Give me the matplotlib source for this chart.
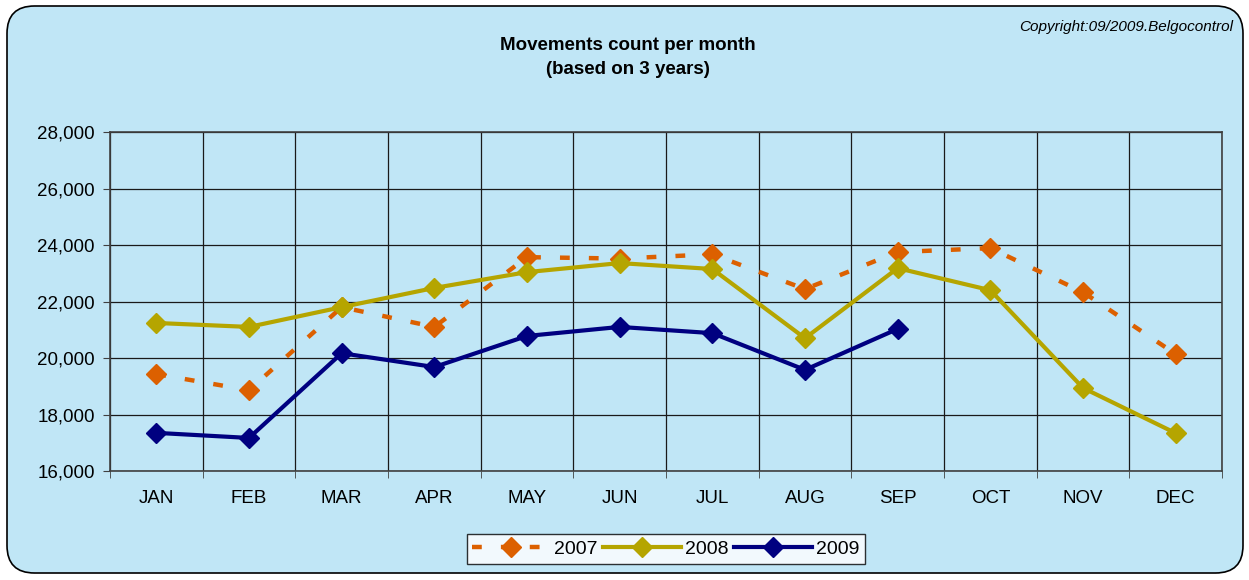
import matplotlib
matplotlib.use("Agg")
import matplotlib.pyplot as plt
from matplotlib.patches import FancyBboxPatch
from matplotlib.ticker import FuncFormatter

# datos
months = ["JAN", "FEB", "MAR", "APR", "MAY", "JUN", "JUL", "AUG", "SEP", "OCT", "NOV", "DEC"]
y2007 = [19430, 18860, 21800, 21100, 23570, 23520, 23670, 22440, 23750, 23890, 22330, 20140]
y2008 = [21240, 21100, 21800, 22480, 23040, 23360, 23150, 20700, 23180, 22400, 18940, 17340]
y2009 = [17350, 17170, 20170, 19680, 20780, 21100, 20880, 19580, 21030]

bg = "#C0E6F6"
plt.rcParams["font.family"] = ["Liberation Sans", "DejaVu Sans"]

fig = plt.figure(figsize=(12.49, 5.8), dpi=100)
fig.patch.set_facecolor("white")

# fondo con esquinas redondeadas
frame = FancyBboxPatch((7 / 1249, 7 / 580), 1236 / 1249, 567 / 580,
                       boxstyle="round,pad=0,rounding_size=0.022",
                       transform=fig.transFigure, facecolor=bg,
                       edgecolor="black", linewidth=1.2, mutation_aspect=1249 / 580,
                       zorder=-10)
fig.patches.append(frame)

ax = fig.add_axes([110 / 1249, 1 - 471 / 580, 1112 / 1249, 339 / 580])
ax.set_facecolor(bg)

x = list(range(1, 13))
ax.plot(x, y2007, color="#DC6000", lw=3.2, ls=(0, (2.2, 4.3)), marker="D", ms=10, label="2007", zorder=3)
ax.plot(x, y2008, color="#B5A500", lw=3, marker="D", ms=10, label="2008", zorder=4)
ax.plot(x[:len(y2009)], y2009, color="#000080", lw=3, marker="D", ms=10, label="2009", zorder=5)

ax.set_xlim(0.5, 12.5)
ax.set_ylim(16000, 28000)
ax.set_yticks(range(16000, 28001, 2000))
ax.yaxis.set_major_formatter(FuncFormatter(lambda v, p: f"{int(v):,}"))
ax.set_xticks(x)
ax.set_xticklabels(months)
ax.set_xticks([i + 0.5 for i in range(0, 13)], minor=True)
ax.tick_params(axis="x", which="major", length=0, pad=14, labelsize=13.5)
ax.tick_params(axis="x", which="minor", length=5, color="#404040")
ax.tick_params(axis="y", length=5, color="#404040", labelsize=13.5, pad=6)

ax.grid(True, axis="y", which="major", color="#1a1a1a", lw=0.9)
ax.grid(True, axis="x", which="minor", color="#1a1a1a", lw=0.9)
for s in ax.spines.values():
    s.set_color("#404040")
    s.set_linewidth(1.2)

fig.text(628 / 1249, 1 - 45 / 580, "Movements count per month", ha="center", va="center",
         fontsize=13.5, fontweight="bold")
fig.text(628 / 1249, 1 - 70 / 580, "(based on 3 years)", ha="center", va="center",
         fontsize=13.5, fontweight="bold")
fig.text(1233 / 1249, 1 - 27 / 580, "Copyright:09/2009.Belgocontrol", ha="right", va="center",
         fontsize=11, style="italic")

leg = fig.legend(loc="center", bbox_to_anchor=(666 / 1249, 1 - 549 / 580), ncol=3,
                 fontsize=14, frameon=True, fancybox=False, handlelength=4.0,
                 handletextpad=0.2, columnspacing=0.3, borderpad=0.3)
leg.get_frame().set_edgecolor("black")
leg.get_frame().set_linewidth(1.0)
leg.get_frame().set_facecolor("white")

fig.savefig("out.png", dpi=100, facecolor=fig.get_facecolor())
